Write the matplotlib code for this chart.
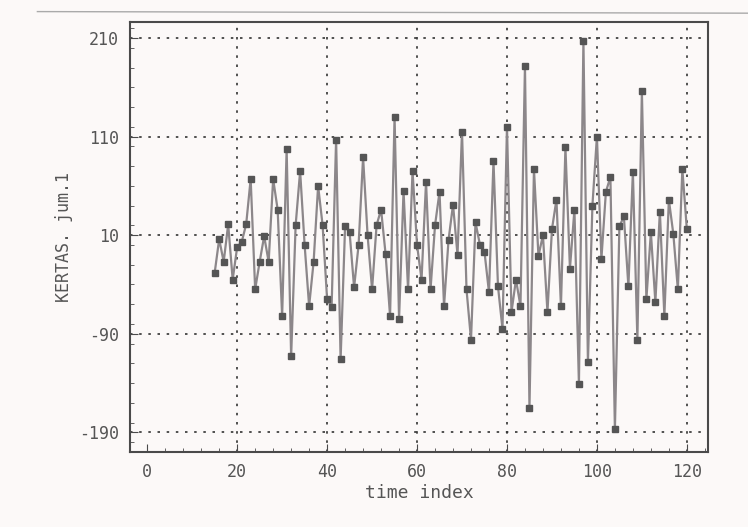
import matplotlib
matplotlib.use('Agg')
import matplotlib.pyplot as plt
from matplotlib.ticker import MultipleLocator
from matplotlib.lines import Line2D

# values, one per time index
start_index = 15
values = [-28, 6, -17, 21, -35, -2, 3, 21, 67,
          -45, -17, 9, -17, 67, 36, -72, 97, -113, 20,
          75, 0, -62, -17, 60, 20, -55, -63, 107, -116,
          19, 13, -43, 0, 89, 10, -45, 20, 36, -9,
          -72, 130, -75, 55, -45, 75, 0, -35, 64,
          -45, 20, 54, -62, 5, 41, -10, 115, -45, -96,
          23, 0, -7, -48, 85, -42, -85, 120, -68, -35,
          -62, 182, -165, 77, -11, 10, -68, 16, 46, -62,
          99, -24, 36, -141, 207, -119, 40, 110, -14, 54,
          69, -187, 19, 29, -42, 74, -96, 156, -55,
          13, -58, 34, -72, 46, 11, -45, 77, 16]
time_index = list(range(start_index, start_index + len(values)))

x_ticks = [0, 20, 40, 60, 80, 100, 120]
y_ticks = [210, 110, 10, -90, -190]

bg = '#fcf9f8'
ink = '#4a4a4a'
dots = (0, (1.5, 4))

fig = plt.figure(figsize=(7.48, 5.27), dpi=100, facecolor=bg)
ax = fig.add_axes([0.174, 0.142, 0.7725, 0.816])
ax.set_facecolor(bg)

ax.plot(time_index, values, color='#8c878a', linewidth=1.6,
        marker='s', markersize=5, markerfacecolor='#555555',
        markeredgecolor='#555555', zorder=3)

ax.set_xlim(-3.8, 124.7)
ax.set_ylim(-210, 226)
ax.set_xticks(x_ticks)
ax.set_yticks(y_ticks)
ax.set_xticklabels([str(t) for t in x_ticks])
ax.set_yticklabels([str(t) for t in y_ticks])
ax.xaxis.set_minor_locator(MultipleLocator(4))
ax.yaxis.set_minor_locator(MultipleLocator(20))

# dotted grid: every y tick, x ticks from 20 on
ax.grid(True, axis='y', which='major', linestyle=dots, color='#333333', linewidth=1.2)
for xt in x_ticks[1:]:
    ax.axvline(xt, linestyle=dots, color='#333333', linewidth=1.2, zorder=1)

ax.tick_params(axis='both', which='major', direction='in', length=6,
               color=ink, labelsize=12, labelcolor='#555555', pad=8)
ax.tick_params(axis='both', which='minor', direction='in', length=3, color=ink)
for lab in ax.get_xticklabels() + ax.get_yticklabels():
    lab.set_family('DejaVu Sans Mono')

for sp in ax.spines.values():
    sp.set_color(ink)
    sp.set_linewidth(1.5)

ax.set_xlabel('time index', family='DejaVu Sans Mono', fontsize=13,
              color='#555555', labelpad=2)
ax.set_ylabel('KERTAS. jum.1', family='DejaVu Sans Mono', fontsize=12,
              color='#555555', labelpad=4)

# faint scan edge near the top of the page
fig.add_artist(Line2D([0.05, 1.0], [0.978, 0.975], color='#aaaaaa',
                      linewidth=1.0, transform=fig.transFigure))

fig.savefig('out.png', dpi=100, facecolor=bg)
